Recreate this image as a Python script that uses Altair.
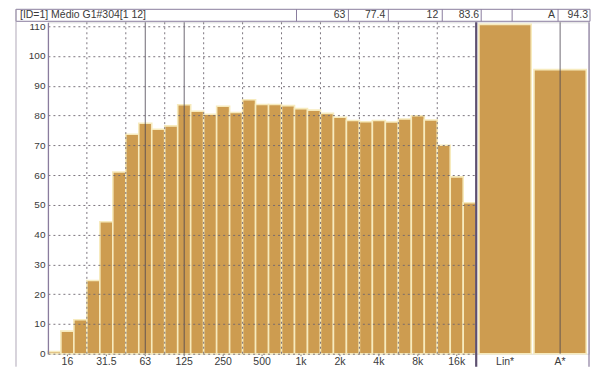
import altair as alt
import pandas as pd

# ---- data ----
freqs = ["12.5", "16", "20", "25", "31.5", "40", "50", "63", "80", "100", "125",
         "160", "200", "250", "315", "400", "500", "630", "800", "1k", "1.25k",
         "1.6k", "2k", "2.5k", "3.15k", "4k", "5k", "6.3k", "8k", "10k", "12.5k",
         "16k", "20k"]
levels = [0.7, 7.6, 11.4, 24.6, 44.3, 61.0, 73.7, 77.4, 75.4, 76.5, 83.6,
          81.4, 80.4, 83.1, 81.0, 85.3, 83.7, 83.7, 83.3, 82.3, 81.8,
          80.7, 79.4, 78.3, 77.9, 78.3, 77.8, 78.8, 79.9, 78.5, 70.0,
          59.4, 50.7]
shown_labels = ["16", "31.5", "63", "125", "250", "500", "1k", "2k", "4k", "8k", "16k"]
grid_freqs = ["25", "50", "100", "200", "400", "800", "1.6k", "3.15k", "6.3k", "12.5k"]
y_ticks = [0, 10, 20, 30, 40, 50, 60, 70, 80, 90, 100, 110]

totals = ["Lin*", "A*"]
total_levels = [110.6, 95.4]

cursor_freqs = ["63", "125"]
cursor_total = ["A*"]
header_title = "[ID=1] Médio G1#304[1 12]"
header_values = ["63", "77.4", "12", "83.6", "A", "94.3"]

# ---- style ----
W_L, W_R, H = 429, 113, 332
BAR = "#CD9C50"
GAP = "#F7EBBE"
FRAME = "#8A7C9E"
GRID = "#6E6670"
TXT = "#3A3A3A"
FONT = "Liberation Sans Narrow, Liberation Sans, Arial, sans-serif"

yscale = alt.Scale(domain=[0, 111.3], nice=False, zero=True)
xscale = alt.Scale(domain=freqs, paddingInner=0, paddingOuter=0)

xaxis = alt.Axis(values=shown_labels, title=None, labelAngle=0,
                 domain=False, ticks=True, tickSize=2, tickColor="#777",
                 labelPadding=1, labelFontSize=10.5, labelColor=TXT,
                 labelFont=FONT)

df = pd.DataFrame({"freq": freqs, "level": levels})
one = alt.Data(values=[{"k": 0}])

bars = alt.Chart(df).mark_bar(color=BAR, stroke=GAP, strokeWidth=1.6).encode(
    x=alt.X("freq:N", scale=xscale, sort=freqs, axis=xaxis),
    y=alt.Y("level:Q", scale=yscale,
            axis=alt.Axis(values=y_ticks, title=None, grid=True, gridDash=[2, 3],
                          gridColor=GRID, gridOpacity=0.9, gridWidth=1,
                          domain=True, domainColor=FRAME, domainWidth=1.3,
                          ticks=False, labelPadding=3, labelFontSize=10,
                          labelColor=TXT, labelFont=FONT, zindex=1)),
)

vgrid = alt.Chart(pd.DataFrame({"freq": grid_freqs})).mark_rule(
    color=GRID, strokeDash=[2, 3], strokeWidth=1, opacity=0.9
).encode(x=alt.X("freq:N", scale=xscale, sort=freqs, bandPosition=0, axis=xaxis))

cursors = alt.Chart(pd.DataFrame({"freq": cursor_freqs})).mark_rule(
    color="#4A4450", strokeWidth=1, opacity=0.8
).encode(x=alt.X("freq:N", scale=xscale, sort=freqs, bandPosition=0.5, axis=xaxis))


def vrule(x, y1, y2, color=FRAME, w=1.0):
    return alt.Chart(one).mark_rule(color=color, strokeWidth=w).encode(
        x=alt.value(x), y=alt.value(y1), y2=alt.value(y2))


def label(txt, x, y, align="right"):
    return alt.Chart(one).mark_text(
        text=txt, align=align, baseline="middle", fontSize=10.5, font=FONT, color=TXT
    ).encode(x=alt.value(x), y=alt.value(y))


# header strip above the plot (relative to left panel origin)
hx1, hx2, hy1, hy2 = -32, 543, -13, -1
header_box = alt.Chart(one).mark_rect(fill="white", stroke=FRAME, strokeWidth=1).encode(
    x=alt.value(hx1), x2=alt.value(hx2), y=alt.value(hy1), y2=alt.value(hy2))
dividers = [vrule(xd, hy1, hy2) for xd in [249, 301, 341, 395, 434, 465, 511]]
header_texts = [label(header_title, -28, -7, align="left")]
for txt, xr in zip(header_values, [298, 338, 391, 432, 508, 541]):
    header_texts.append(label(txt, xr, -7))

left_frame = vrule(-32, hy1, H + 13, color="#B0A8B8", w=1)

left = alt.layer(
    bars, vgrid, cursors, header_box, *dividers, *header_texts, left_frame
).properties(width=W_L, height=H)

# right panel (Lin*, A*)
dfr = pd.DataFrame({"band": totals, "level": total_levels})
rscale = alt.Scale(domain=totals, paddingInner=0.05, paddingOuter=0.05)
raxis = alt.Axis(title=None, labelAngle=0, domain=False, ticks=False,
                 labelPadding=3, labelFontSize=10.5, labelColor=TXT, labelFont=FONT)
rbars = alt.Chart(dfr).mark_bar(color=BAR, stroke=GAP, strokeWidth=1.6).encode(
    x=alt.X("band:N", scale=rscale, sort=totals, axis=raxis),
    y=alt.Y("level:Q", scale=yscale, axis=None),
)
rcursor = alt.Chart(pd.DataFrame({"band": cursor_total})).mark_rule(
    color="#4A4450", strokeWidth=1, opacity=0.8
).encode(x=alt.X("band:N", scale=rscale, sort=totals, bandPosition=0.5, axis=raxis))

separator = vrule(0, 0, H + 13, color="#5E5070", w=2.2)
right_border = vrule(W_R, 0, H + 13, color=FRAME, w=1.2)

right = alt.layer(rbars, rcursor, separator, right_border).properties(width=W_R, height=H)

chart = alt.hconcat(left, right, spacing=0, bounds="flush").properties(
    padding={"left": 7, "top": 0, "right": 0, "bottom": 0}
).configure_view(stroke=FRAME, strokeWidth=1).configure(background="white")

chart.save("out.html", embed_options={"renderer": "svg", "actions": False})
